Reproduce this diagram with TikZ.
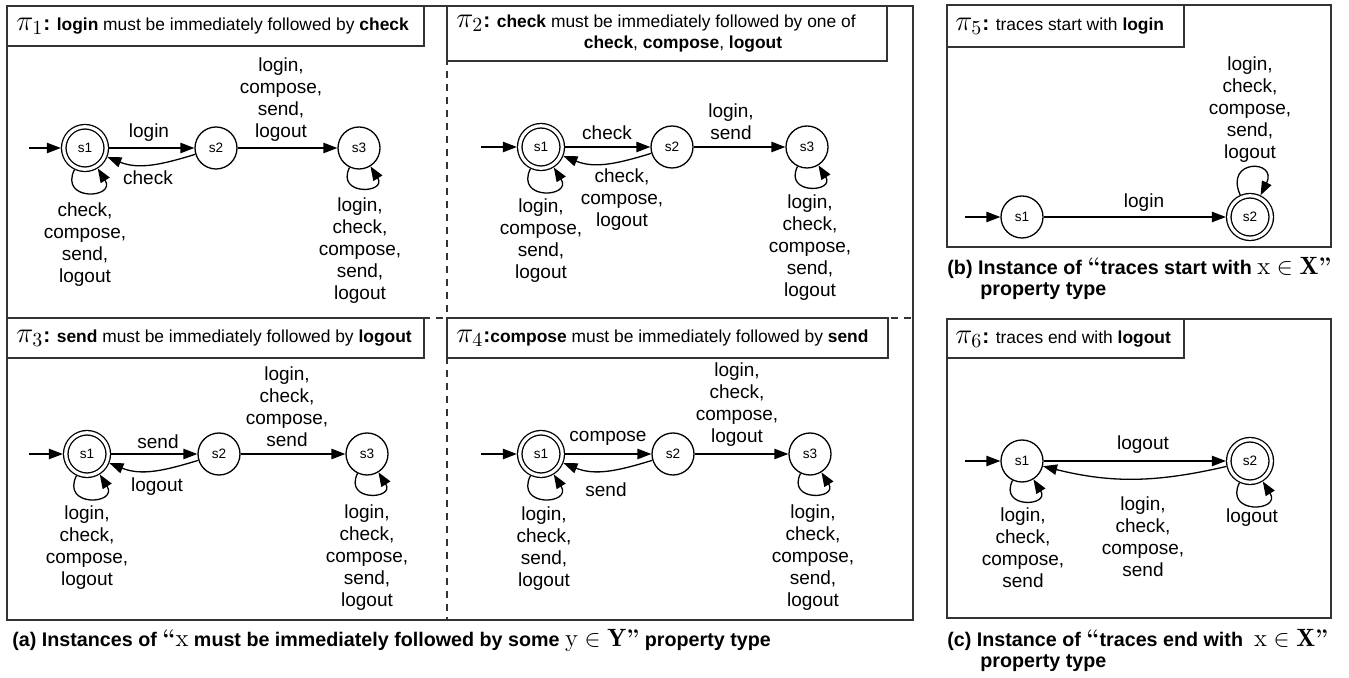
\documentclass[tikz,border=0pt]{standalone}
\usepackage{fontspec}
\setsansfont{Liberation Sans}
\usetikzlibrary{arrows.meta}
\newcommand\mypi[1]{{\fontsize{14}{16}\selectfont$\pi_{#1}$}{\fontsize{10.5}{12}\selectfont\textbf{:}}}
\newcommand\mth[1]{{\fontsize{12.5}{14}\selectfont$#1$}}
\newcommand\q[1]{{\normalfont\bfseries\fontsize{12}{14}\selectfont#1}}
\tikzset{
 lbl/.style={font=\sffamily\fontsize{9.5}{11}\selectfont, align=center, inner sep=0pt},
 st/.style={circle, draw, line width=0.65pt, minimum size=21pt, inner sep=0pt, font=\sffamily\fontsize{6.8}{8}\selectfont},
 acc/.style={st, minimum size=21.25pt, double, double distance=1.6pt, outer sep=1.45pt},
 arr/.style={-{Triangle[length=7pt,width=5.2pt]}, line width=0.65pt},
 frame/.style={draw=black!80, line width=0.6pt},
 tbox/.style={draw=black!80, fill=white, line width=0.6pt},
 ttl/.style={font=\sffamily\fontsize{8.7}{10.5}\selectfont, anchor=west, inner sep=0pt},
 captxt/.style={font=\sffamily\bfseries\fontsize{9.85}{11.5}\selectfont, anchor=west, inner sep=0pt},
 div/.style={draw=black!80, line width=0.6pt, dash pattern=on 3.5pt off 3pt},
 lp/.style={arr, out=-116, in=-58, looseness=3.9},
}
\begin{document}
\begin{tikzpicture}[x=0.5pt,y=0.5pt]
\useasboundingbox (0,0) rectangle (1349,-678);
% ---------- frame (a)
\draw[frame] (7,-6) rectangle (913,-620);
\draw[div] (447,-6) -- (447,-620);
\draw[div] (7,-318) -- (913,-318);
\draw[tbox] (7,-6) rectangle (424,-46);
\draw[tbox] (447,-6) rectangle (887,-61);
\draw[tbox] (7,-318) rectangle (424,-358);
\draw[tbox] (447,-318) rectangle (888,-358);
\node[ttl] (t1) at (16,-26) {\mypi{1} \textbf{login} must be immediately followed by \textbf{check}};
\node[ttl] (t2) at (456,-23) {\mypi{2} \textbf{check} must be immediately followed by one of};
\node[lbl, font=\sffamily\fontsize{8.7}{10.5}\selectfont] (t2b) at (683,-44) {\textbf{check}, \textbf{compose}, \textbf{logout}};
\node[ttl] (t3) at (16,-338) {\mypi{3} \textbf{send} must be immediately followed by \textbf{logout}};
\node[ttl] (t4) at (456,-338) {\mypi{4}\textbf{compose} must be immediately followed by \textbf{send}};
% ---------- pi1
\node[acc] (a1) at (85,-148) {s1};
\node[st] (a2) at (216,-148) {s2};
\node[st] (a3) at (359,-148) {s3};
\coordinate (ai) at (29,-148);
\draw[arr] (ai) -- (a1);
\draw[arr] (a1) -- (a2);
\draw[arr] (a2) to[out=-163,in=-22] (a1);
\draw[arr] (a2) -- (a3);
\draw[lp] (a1) to (a1);
\draw[lp] (a3) to (a3);
\node[lbl] (la1) at (149,-133) {login};
\node[lbl] (la2) at (148,-178) {check};
\node[lbl] (la3) at (281,-100) {login,\\compose,\\send,\\logout};
\node[lbl] (la4) at (85,-245) {check,\\compose,\\send,\\logout};
\node[lbl] (la5) at (360,-251) {login,\\check,\\compose,\\send,\\logout};
% ---------- pi2
\node[acc] (b1) at (541,-147) {s1};
\node[st] (b2) at (672,-147) {s2};
\node[st] (b3) at (807,-147) {s3};
\coordinate (bi) at (481,-147);
\draw[arr] (bi) -- (b1);
\draw[arr] (b1) -- (b2);
\draw[arr] (b2) to[out=-163,in=-22] (b1);
\draw[arr] (b2) -- (b3);
\draw[lp] (b1) to (b1);
\draw[lp] (b3) to (b3);
\node[lbl] (lb1) at (607,-133) {check};
\node[lbl] (lb2) at (731,-122) {login,\\send};
\node[lbl] (lb3) at (622,-200) {check,\\compose,\\logout};
\node[lbl] (lb4) at (541,-241) {login,\\compose,\\send,\\logout};
\node[lbl] (lb5) at (810,-248) {login,\\check,\\compose,\\send,\\logout};
% ---------- pi3
\node[acc] (c1) at (87,-454) {s1};
\node[st] (c2) at (219,-454) {s2};
\node[st] (c3) at (367,-454) {s3};
\coordinate (ci) at (29,-454);
\draw[arr] (ci) -- (c1);
\draw[arr] (c1) -- (c2);
\draw[arr] (c2) to[out=-163,in=-22] (c1);
\draw[arr] (c2) -- (c3);
\draw[lp] (c1) to (c1);
\draw[lp] (c3) to (c3);
\node[lbl] (lc1) at (158,-442) {send};
\node[lbl] (lc2) at (287,-407) {login,\\check,\\compose,\\send};
\node[lbl] (lc3) at (157,-487) {logout};
\node[lbl] (lc4) at (87,-548) {login,\\check,\\compose,\\logout};
\node[lbl] (lc5) at (367,-558) {login,\\check,\\compose,\\send,\\logout};
% ---------- pi4
\node[acc] (d1) at (541,-454) {s1};
\node[st] (d2) at (673,-454) {s2};
\node[st] (d3) at (810,-454) {s3};
\coordinate (di) at (481,-454);
\draw[arr] (di) -- (d1);
\draw[arr] (d1) -- (d2);
\draw[arr] (d2) to[out=-163,in=-22] (d1);
\draw[arr] (d2) -- (d3);
\draw[lp] (d1) to (d1);
\draw[lp] (d3) to (d3);
\node[lbl] (ld1) at (608,-438) {compose};
\node[lbl] (ld2) at (737,-405) {login,\\check,\\compose,\\logout};
\node[lbl] (ld3) at (606,-490) {send};
\node[lbl] (ld4) at (544,-549) {login,\\check,\\send,\\logout};
\node[lbl] (ld5) at (813,-558) {login,\\check,\\compose,\\send,\\logout};
% ---------- caption (a)
\node[captxt] (capa) at (12,-640) {(a) Instances of \q{``}\mth{\mathrm{x}} must be immediately followed by some \mth{\mathrm{y}\in\mathbf{Y}}\q{''} property type};
% ---------- pi5
\draw[frame] (947,-5) rectangle (1331,-247);
\draw[tbox] (947,-5) rectangle (1184,-47);
\node[ttl] (t5) at (955,-26) {\mypi{5} traces start with \textbf{login}};
\node[st] (e1) at (1022,-217) {s1};
\node[acc] (e2) at (1250,-217) {s2};
\coordinate (ei) at (965,-217);
\draw[arr] (ei) -- (e1);
\draw[arr] (e1) -- (e2);
\draw[arr, looseness=5] (e2) to[out=114,in=64] (e2);
\node[lbl] (le1) at (1144,-203) {login};
\node[lbl] (le2) at (1250,-110) {login,\\check,\\compose,\\send,\\logout};
\node[captxt] (capb) at (947,-268) {(b) Instance of \q{``}traces start with \mth{\mathrm{x}\in\mathbf{X}}\q{''}};
\node[captxt] (capb2) at (980,-291) {property type};
% ---------- pi6
\draw[frame] (947,-319) rectangle (1331,-618);
\draw[tbox] (947,-319) rectangle (1184,-358);
\node[ttl] (t6) at (955,-339) {\mypi{6} traces end with \textbf{logout}};
\node[st] (f1) at (1022,-461) {s1};
\node[acc] (f2) at (1250,-461) {s2};
\coordinate (fi) at (965,-461);
\draw[arr] (fi) -- (f1);
\draw[arr] (f1) -- (f2);
\draw[arr] (f2) to[out=-167,in=-14] (f1);
\draw[lp] (f1) to (f1);
\draw[lp] (f2) to (f2);
\node[lbl] (lf1) at (1143,-445) {logout};
\node[lbl] (lf2) at (1143,-537) {login,\\check,\\compose,\\send};
\node[lbl] (lf3) at (1023,-548) {login,\\check,\\compose,\\send};
\node[lbl] (lf4) at (1252,-518) {logout};
\node[captxt] (capc) at (947,-640) {(c) Instance of \q{``}traces end with \ \mth{\mathrm{x}\in\mathbf{X}}\q{''}};
\node[captxt] (capc2) at (980,-663) {property type};
\end{tikzpicture}
\end{document}
